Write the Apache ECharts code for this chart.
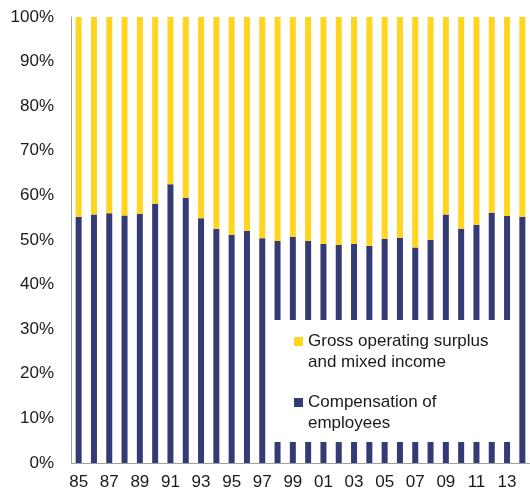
<!DOCTYPE html>
<html>
<head>
<meta charset="utf-8">
<script src="https://cdn.jsdelivr.net/npm/echarts@6/dist/echarts.min.js"></script>
<style>
  html, body { margin: 0; padding: 0; background: #fff; }
  #chart { width: 530px; height: 492px; }
</style>
</head>
<body>
<div id="chart"></div>
<script>
// years 1985..2014, two-digit labels
const years = ['85', '86', '87', '88', '89', '90', '91', '92', '93', '94',
  '95', '96', '97', '98', '99', '00', '01', '02', '03', '04',
  '05', '06', '07', '08', '09', '10', '11', '12', '13', '14'];

// share of compensation of employees (%)
const compensation = [55.2, 55.7, 56.0, 55.5, 55.9, 58.1, 62.5, 59.5, 54.9, 52.5,
  51.1, 52.1, 50.4, 49.8, 50.7, 49.8, 49.1, 48.9, 49.1, 48.7,
  50.3, 50.5, 48.3, 50.0, 55.7, 52.5, 53.4, 56.1, 55.4, 55.2];

// share of gross operating surplus and mixed income (%)
const grossSurplus = [44.8, 44.3, 44.0, 44.5, 44.1, 41.9, 37.5, 40.5, 45.1, 47.5,
  48.9, 47.9, 49.6, 50.2, 49.3, 50.2, 50.9, 51.1, 50.9, 51.3,
  49.7, 49.5, 51.7, 50.0, 44.3, 47.5, 46.6, 43.9, 44.6, 44.8];

const navy = '#343b74';
const yellow = '#ffd520';
const font = 'Liberation Sans, Arial, sans-serif';

const nameComp = 'Compensation of\nemployees';
const nameGross = 'Gross operating surplus\nand mixed income';

let myEcharts = echarts.init(document.getElementById('chart'));
let option = {
  animation: false,
  textStyle: {fontFamily: font},
  grid: {left: 71, top: 17, width: 463, height: 446, containLabel: false},
  graphic: [
    {
      // white box behind the legend, hiding the middle of the bars
      type: 'rect',
      z: 3,
      shape: {x: 268, y: 320, width: 250, height: 122},
      style: {fill: '#fff'}
    }
  ],
  legend: {
    z: 5,
    orient: 'vertical',
    left: 294,
    top: 310,
    padding: 0,
    itemGap: -2,
    itemWidth: 9,
    itemHeight: 9,
    icon: 'rect',
    data: [nameGross, nameComp],
    // leading blank line so the marker sits on the first text line
    formatter: function (name) {
      return '\n' + name;
    },
    textStyle: {
      fontFamily: font,
      fontSize: 17,
      color: '#1a1a1a',
      lineHeight: 21
    }
  },
  xAxis: {
    type: 'category',
    data: years,
    axisLine: {lineStyle: {color: '#a0a0a0', width: 1}},
    axisTick: {show: false},
    axisLabel: {
      interval: 1,
      margin: 11,
      fontSize: 17,
      color: '#1a1a1a',
      fontFamily: font
    }
  },
  yAxis: {
    type: 'value',
    min: 0,
    max: 100,
    interval: 10,
    axisLine: {show: true, lineStyle: {color: '#a0a0a0', width: 1}},
    axisTick: {show: false},
    splitLine: {show: false},
    axisLabel: {
      formatter: '{value}%',
      margin: 17,
      fontSize: 17,
      color: '#1a1a1a',
      fontFamily: font
    }
  },
  series: [
    {
      name: nameComp,
      type: 'bar',
      stack: 'total',
      barWidth: 6,
      itemStyle: {color: navy},
      data: compensation
    },
    {
      name: nameGross,
      type: 'bar',
      stack: 'total',
      barWidth: 6,
      itemStyle: {color: yellow},
      data: grossSurplus
    }
  ]
};
myEcharts.setOption(option);
</script>
</body>
</html>
